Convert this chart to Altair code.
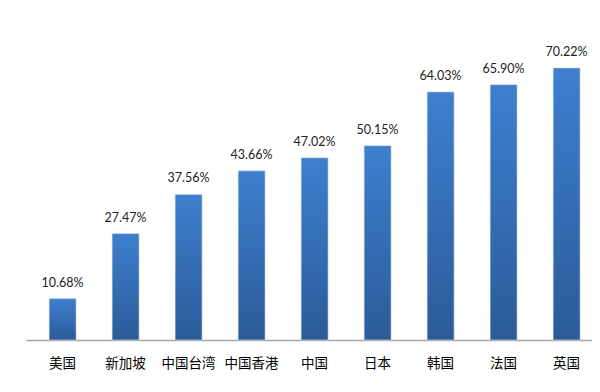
import altair as alt
import pandas as pd

categories = ["美国", "新加坡", "中国台湾", "中国香港", "中国", "日本", "韩国", "法国", "英国"]
values = [10.68, 27.47, 37.56, 43.66, 47.02, 50.15, 64.03, 65.90, 70.22]
labels = ["10.68%", "27.47%", "37.56%", "43.66%", "47.02%", "50.15%", "64.03%", "65.90%", "70.22%"]

df = pd.DataFrame({"cat": categories, "val": values, "label": labels})

x = alt.X("cat:N", sort=categories,
          scale=alt.Scale(paddingInner=0.572, paddingOuter=0.278, align=0.66),
          axis=alt.Axis(title=None, labelAngle=0, ticks=False, domainColor="#a6a6a6",
                        domainWidth=1.5, labelFont="Noto Sans CJK SC", labelFontSize=13.5,
                        labelColor="#000000", labelPadding=16))
y = alt.Y("val:Q", scale=alt.Scale(domain=[0, 80], nice=False), axis=None)

bars = alt.Chart(df).mark_bar(
    color=alt.Gradient(
        gradient="linear",
        stops=[alt.GradientStop(color="#3e7fcf", offset=0),
               alt.GradientStop(color="#2b5b98", offset=1)],
        x1=0, x2=0, y1=0, y2=1),
    stroke="#d8dde6", strokeWidth=0.6
).encode(x=x, y=y)

text = alt.Chart(df).mark_text(
    baseline="bottom", dy=-9, font="Lato", fontSize=12.5, color="#222222"
).encode(x=alt.X("cat:N", sort=categories), y=alt.Y("val:Q"), text="label:N")

chart = alt.layer(bars, text).properties(
    width=566, height=310,
    autosize=alt.AutoSizeParams(type="none"),
    padding={"left": 18, "top": 22, "right": 0, "bottom": 40},
    background="white"
).configure_view(stroke=None)

chart.save("out.html", embed_options={"renderer": "svg", "actions": False})
